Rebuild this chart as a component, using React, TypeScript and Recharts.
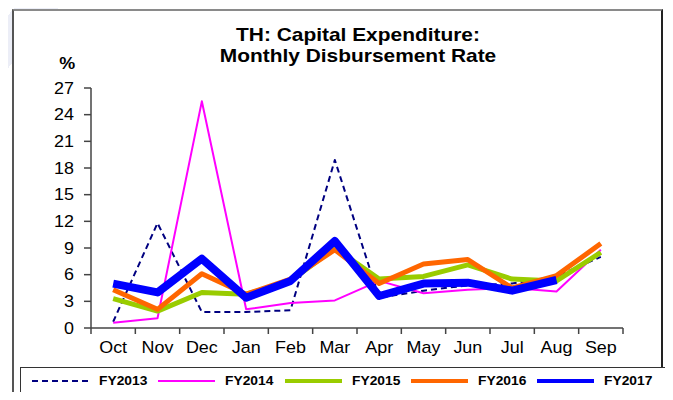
import React from 'react';
import { LineChart, Line, XAxis, YAxis } from 'recharts';

const months = ['Oct', 'Nov', 'Dec', 'Jan', 'Feb', 'Mar', 'Apr', 'May', 'Jun', 'Jul', 'Aug', 'Sep'];
const fy2013 = [0.7, 11.8, 1.8, 1.8, 2.0, 18.9, 3.4, 4.2, 4.8, 5.0, 5.8, 8.0];
const fy2014 = [0.6, 1.1, 25.5, 2.1, 2.8, 3.1, 5.3, 3.9, 4.3, 4.5, 4.1, 8.8];
const fy2015 = [3.3, 1.9, 4.0, 3.8, 5.3, 9.0, 5.5, 5.8, 7.1, 5.5, 5.3, 8.5];
const fy2016 = [4.3, 2.1, 6.1, 3.8, 5.5, 8.8, 5.0, 7.2, 7.7, 4.5, 5.9, 9.5];
const fy2017 = [5.0, 4.0, 7.8, 3.4, 5.3, 9.8, 3.6, 5.0, 5.1, 4.2, 5.4, null];
const yTicks = [0, 3, 6, 9, 12, 15, 18, 21, 24, 27];

const data = months.map((m, i) => ({
  x: i + 0.5,
  month: m,
  fy2013: fy2013[i],
  fy2014: fy2014[i],
  fy2015: fy2015[i],
  fy2016: fy2016[i],
  fy2017: fy2017[i],
}));

// tick marks sit between months, labels at the middle of each month
const xTicks = Array.from({ length: 25 }, (_, i) => i / 2);

const series = [
  { key: 'fy2013', name: 'FY2013', color: '#000080', width: 2, legendWidth: 2, dash: '6 4' },
  { key: 'fy2014', name: 'FY2014', color: '#ff00ff', width: 2, legendWidth: 2 },
  { key: 'fy2015', name: 'FY2015', color: '#99cc00', width: 5, legendWidth: 4 },
  { key: 'fy2016', name: 'FY2016', color: '#ff6600', width: 5, legendWidth: 4 },
  { key: 'fy2017', name: 'FY2017', color: '#0000ff', width: 8, legendWidth: 4 },
];

const font = '"Liberation Sans", Arial, sans-serif';

const XTick = (props: any) => {
  const { x, y, payload } = props;
  const v = payload.value;
  if (Number.isInteger(v)) {
    return <line x1={x} x2={x} y1={y} y2={y + 6} stroke="#444" strokeWidth={1.5} />;
  }
  return (
    <text
      transform={`translate(${x},${y + 25}) scale(1.12,1)`}
      textAnchor="middle"
      fontSize={16}
      fontFamily={font}
      fill="#000"
    >
      {months[Math.floor(v)]}
    </text>
  );
};

const YTick = (props: any) => {
  const { x, y, payload } = props;
  return (
    <text
      transform={`translate(${x},${y}) scale(1.12,1)`}
      textAnchor="end"
      dy="0.355em"
      fontSize={16}
      fontFamily={font}
      fill="#000"
    >
      {payload.value}
    </text>
  );
};

export default function App() {
  return (
    <div
      style={{
        position: 'relative',
        width: 673,
        height: 400,
        margin: -8,
        overflow: 'hidden',
        background: 'linear-gradient(130deg, #ffffff 0px, #ffffff 16px, #eceef7 16px, #eceef7 50px, #ffffff 50px)',
        fontFamily: font,
      }}
    >
      <div
        style={{
          position: 'absolute',
          left: 12,
          top: 9,
          width: 647,
          height: 400,
          background: '#fff',
          borderTop: '2px solid #8a8a8a',
          borderLeft: '2px solid #555',
          borderRight: '2px solid #222',
        }}
      />
      <div
        style={{
          position: 'absolute',
          left: 158,
          top: 24,
          width: 400,
          textAlign: 'center',
          fontWeight: 'bold',
          fontSize: 18.5,
          lineHeight: '21px',
          transform: 'scaleX(1.13)',
          color: '#000',
        }}
      >
        TH: Capital Expenditure:
        <br />
        Monthly Disbursement Rate
      </div>
      <div
        style={{
          position: 'absolute',
          left: 60,
          top: 55,
          fontWeight: 'bold',
          fontSize: 16,
          lineHeight: '18px',
          transform: 'scaleX(1.12)',
          color: '#000',
        }}
      >
        %
      </div>
      <div style={{ position: 'absolute', left: 0, top: 0 }}>
        <LineChart width={673} height={400} data={data} margin={{ top: 88, right: 50, bottom: 42, left: 0 }}>
          <XAxis
            type="number"
            dataKey="x"
            domain={[0, 12]}
            ticks={xTicks}
            interval={0}
            tickLine={false}
            tickSize={0}
            tickMargin={0}
            axisLine={{ stroke: '#444', strokeWidth: 1.5 }}
            height={30}
            tick={(p: any) => <XTick {...p} />}
          />
          <YAxis
            type="number"
            domain={[0, 27]}
            ticks={yTicks}
            interval={0}
            width={91}
            tickSize={7}
            tickMargin={10}
            axisLine={{ stroke: '#444', strokeWidth: 1.5 }}
            tickLine={{ stroke: '#444', strokeWidth: 1.5 }}
            tick={(p: any) => <YTick {...p} />}
          />
          {series.map((s) => (
            <Line
              key={s.key}
              dataKey={s.key}
              name={s.name}
              type="linear"
              stroke={s.color}
              strokeWidth={s.width}
              strokeDasharray={s.dash}
              strokeLinejoin="round"
              dot={false}
              activeDot={false}
              isAnimationActive={false}
            />
          ))}
        </LineChart>
      </div>
      <div
        style={{
          position: 'absolute',
          left: 20,
          top: 367,
          width: 633,
          height: 26,
          border: '1.5px solid #333',
          background: '#fff',
          display: 'flex',
          alignItems: 'center',
          paddingLeft: 11,
          boxSizing: 'content-box',
        }}
      >
        {series.map((s) => (
          <div key={s.key} style={{ width: 126.3, display: 'flex', alignItems: 'center', flexShrink: 0 }}>
            <svg width={57} height={8} style={{ display: 'block' }}>
              <line
                x1={0}
                x2={57}
                y1={4}
                y2={4}
                stroke={s.color}
                strokeWidth={s.legendWidth}
                strokeDasharray={s.dash}
                strokeLinecap={s.dash ? 'butt' : 'round'}
              />
            </svg>
            <span
              style={{
                marginLeft: 10,
                fontWeight: 'bold',
                fontSize: 12,
                display: 'inline-block',
                transform: 'scaleX(1.15)',
                transformOrigin: 'left center',
                color: '#000',
              }}
            >
              {s.name}
            </span>
          </div>
        ))}
      </div>
    </div>
  );
}
